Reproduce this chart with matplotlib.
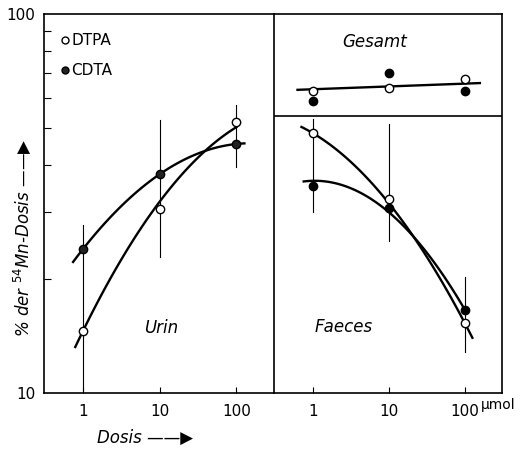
import numpy as np
import matplotlib.pyplot as plt

# Dosis (umol) - same three doses in every panel
dose = [1, 10, 100]

# Urin, % der 54Mn-Dosis
urin_dtpa = [14.6, 30.6, 51.9]
urin_cdta = [24.0, 37.8, 45.4]
urin_err_lo = [10.2, 22.9, 39.5]
urin_err_hi = [27.7, 52.5, 57.5]

# Faeces
faeces_dtpa = [48.5, 32.5, 15.3]
faeces_cdta = [35.2, 30.8, 16.6]
faeces_err_lo = [30.1, 25.2, 12.8]
faeces_err_hi = [52.8, 51.3, 20.2]

# Gesamt
gesamt_dtpa = [62.7, 63.8, 67.4]
gesamt_cdta = [58.9, 69.8, 62.7]

# hand-drawn fit curves, value of the curve at each dose
curve_urin_dtpa = [14.6, 32.0, 50.3]
curve_urin_cdta = [24.0, 37.8, 45.4]
curve_faeces_dtpa = [48.5, 31.7, 15.3]
curve_faeces_cdta = [36.3, 30.0, 16.6]
curve_gesamt = [63.3, 64.4, 65.5]

FONT = ['DejaVu Sans']
plt.rcParams['font.family'] = FONT


def fit_curve(x, y, x0, x1, deg=2):
    # smooth curve: polynomial in log-log space
    lx = np.log10(x)
    ly = np.log10(y)
    p = np.polyfit(lx, ly, deg)
    xs = np.linspace(np.log10(x0), np.log10(x1), 100)
    return 10 ** xs, 10 ** np.polyval(p, xs)


def setup(ax):
    ax.set_xscale('log')
    ax.set_yscale('log')
    ax.set_xlim(10 ** -0.51, 10 ** 2.49)
    ax.set_ylim(10, 100)
    ax.set_xticks(dose)
    ax.set_xticklabels(['1', '10', '100'])
    ax.xaxis.set_minor_locator(plt.NullLocator())
    ax.tick_params(axis='x', direction='in', length=4, width=0.8, labelsize=11, pad=8)
    for s in ax.spines.values():
        s.set_linewidth(1.2)


fig = plt.figure(figsize=(5.22, 4.5), dpi=100)
ax1 = fig.add_axes([44 / 522, 57 / 450, 230 / 522, 379 / 450])
ax2 = fig.add_axes([274 / 522, 57 / 450, 228 / 522, 379 / 450])

for ax in (ax1, ax2):
    setup(ax)

# y axis only on the left panel
ax1.set_yticks([10, 100])
ax1.set_yticklabels(['10', '100'])
ax1.set_yticks([20, 30, 40, 50, 60, 70, 80, 90], minor=True)
ax1.yaxis.set_minor_formatter(plt.NullFormatter())
ax1.tick_params(axis='y', which='major', direction='in', length=0, labelsize=11, pad=6)
ax1.tick_params(axis='y', which='minor', direction='in', length=5, width=0.8)
ax2.set_yticks([])
ax2.set_yticks([], minor=True)
ax1.spines['right'].set_visible(False)

mk = dict(markersize=6, markeredgewidth=1.0, markeredgecolor='black', linestyle='none', zorder=5)
lw_curve = 1.7

# Urin
for xi, lo, hi in zip(dose, urin_err_lo, urin_err_hi):
    ax1.plot([xi, xi], [lo, hi], color='black', lw=0.8)
cx, cy = fit_curve(dose, curve_urin_dtpa, 0.79, 100)
ax1.plot(cx, cy, color='black', lw=lw_curve)
cx, cy = fit_curve(dose, curve_urin_cdta, 0.74, 127)
ax1.plot(cx, cy, color='black', lw=lw_curve)
ax1.plot(dose, urin_dtpa, marker='o', markerfacecolor='white', **mk)
ax1.plot(dose, urin_cdta, marker='o', markerfacecolor='#222222', **mk)

# Faeces
for xi, lo, hi in zip(dose, faeces_err_lo, faeces_err_hi):
    ax2.plot([xi, xi], [lo, hi], color='black', lw=0.8)
cx, cy = fit_curve(dose, curve_faeces_dtpa, 0.71, 126)
ax2.plot(cx, cy, color='black', lw=lw_curve)
cx, cy = fit_curve(dose, curve_faeces_cdta, 0.76, 100)
ax2.plot(cx, cy, color='black', lw=lw_curve)
ax2.plot(dose, faeces_dtpa, marker='o', markerfacecolor='white', **mk)
ax2.plot(dose, faeces_cdta, marker='o', markerfacecolor='black', **mk)

# Gesamt section (top of right panel)
ax2.axhline(53.8, color='black', lw=1.2)
cx, cy = fit_curve(dose, curve_gesamt, 0.63, 158, deg=1)
ax2.plot(cx, cy, color='black', lw=lw_curve)
ax2.plot(dose, gesamt_dtpa, marker='o', markerfacecolor='white', **mk)
ax2.plot(dose, gesamt_cdta, marker='o', markerfacecolor='black', **mk)

# panel labels
ax1.text(0.509, 0.171, 'Urin', transform=ax1.transAxes, style='italic', fontsize=12, ha='center', va='center')
ax2.text(0.307, 0.173, 'Faeces', transform=ax2.transAxes, style='italic', fontsize=12, ha='center', va='center')
ax2.text(0.443, 0.926, 'Gesamt', transform=ax2.transAxes, style='italic', fontsize=12, ha='center', va='center')

# legend
ax1.plot([0.091], [0.931], transform=ax1.transAxes, marker='o', markerfacecolor='white', markersize=5,
         markeredgecolor='black', markeredgewidth=1, linestyle='none', clip_on=False)
ax1.text(0.12, 0.931, 'DTPA', transform=ax1.transAxes, fontsize=11, va='center')
ax1.plot([0.091], [0.852], transform=ax1.transAxes, marker='o', markerfacecolor='#222222', markersize=5,
         markeredgecolor='black', markeredgewidth=1, linestyle='none', clip_on=False)
ax1.text(0.12, 0.852, 'CDTA', transform=ax1.transAxes, fontsize=11, va='center')

# unit after the last tick label
fig.text(481 / 522, 1 - 405 / 450, 'µmol', fontsize=10, va='center', ha='left')

# axis titles with arrows
fig.text(22 / 522, 1 - 238 / 450, '% der $^{54}$Mn-Dosis \u2014\u2014\u25b6', rotation=90, style='italic',
         fontsize=12, ha='center', va='center')
fig.text(97 / 522, 1 - 438 / 450, 'Dosis \u2014\u2014\u25b6', style='italic', fontsize=12, ha='left', va='center')

fig.savefig('out.png', dpi=100)
